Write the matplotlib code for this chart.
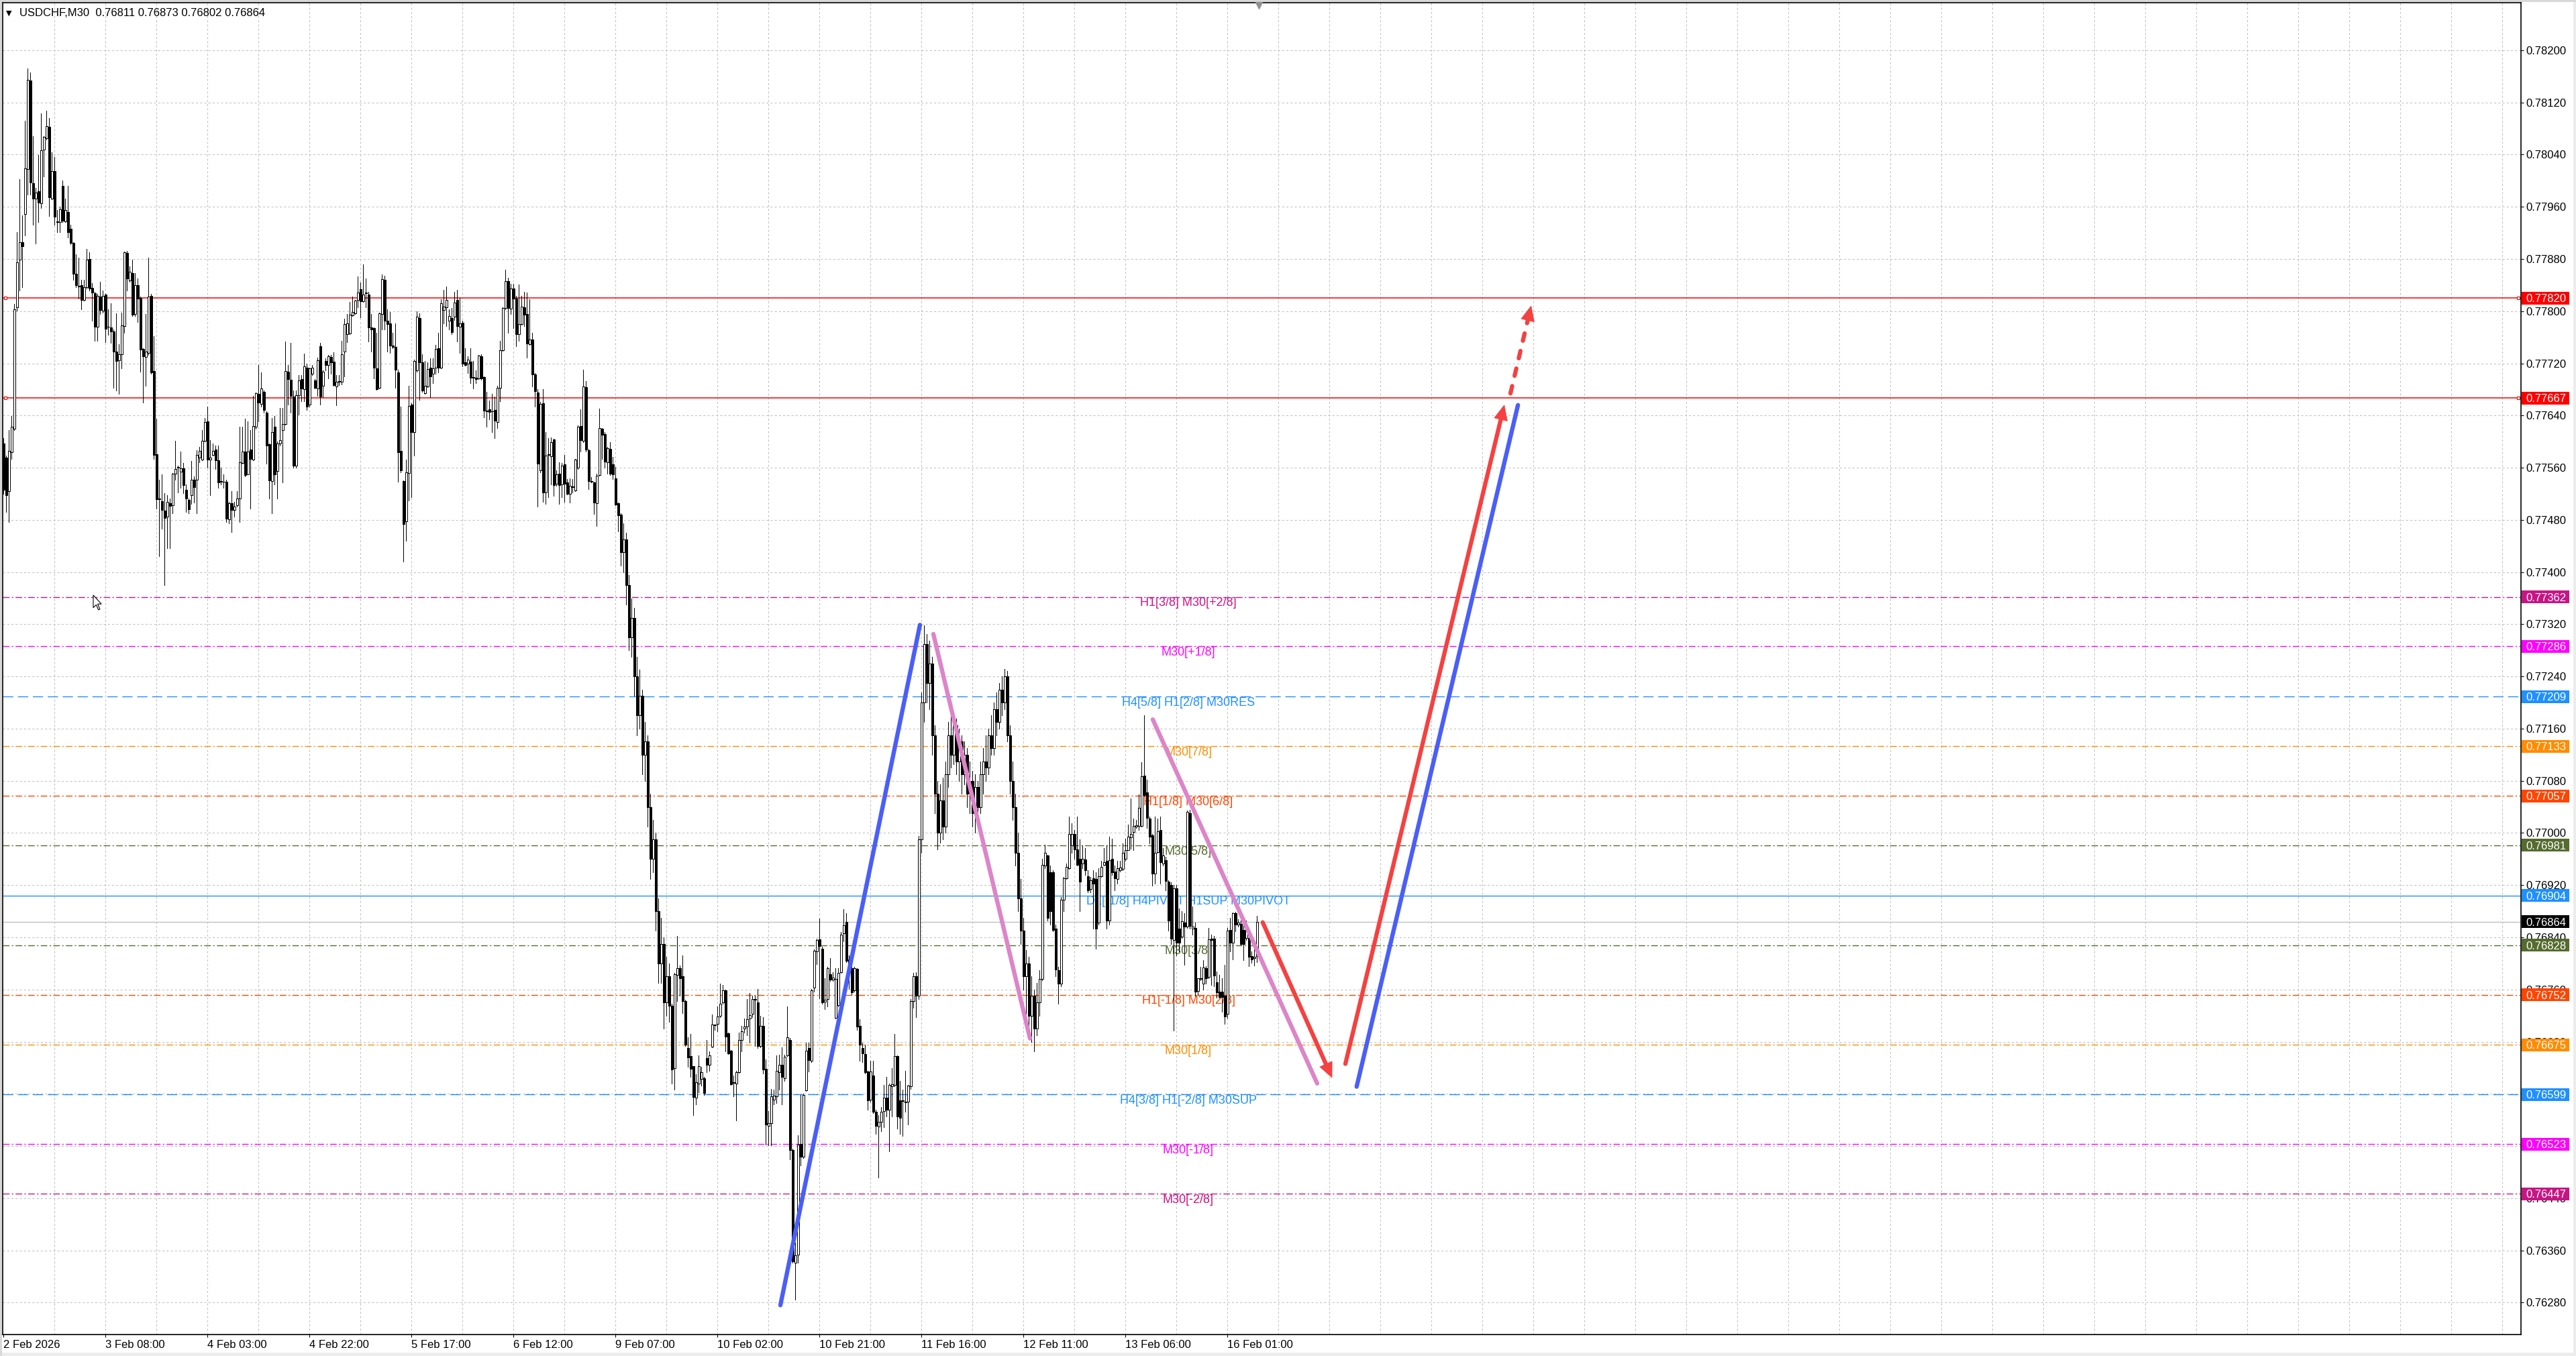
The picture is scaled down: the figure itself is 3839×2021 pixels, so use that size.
import numpy as np
import matplotlib
matplotlib.use("Agg")
import matplotlib.pyplot as plt
from matplotlib.patches import Rectangle, Polygon
from matplotlib.transforms import blended_transform_factory, IdentityTransform

plt.rcParams['font.family'] = ['Liberation Sans', 'DejaVu Sans']

W, H, DPI = 3839, 2021, 100

# USDCHF M30 candles, prices in 1e-5 units
opens = [
    77597, 77576, 77524, 77584, 77620, 77806, 77879, 77906, 77949, 78018,
    78154, 77996, 77973, 77984, 77965, 78048, 78065, 78083, 77973, 78015,
    77937, 77937, 77992, 77938, 77952, 77926, 77905, 77857, 77838, 77840,
    77817, 77837, 77880, 77836, 77828, 77776, 77822, 77801, 77825, 77776,
    77775, 77769, 77738, 77725, 77734, 77777, 77889, 77847, 77858, 77796,
    77840, 77820, 77742, 77730, 77736, 77823, 77708, 77581, 77512, 77509,
    77494, 77485, 77506, 77502, 77551, 77560, 77554, 77559, 77526, 77511,
    77518, 77542, 77542, 77576, 77572, 77601, 77631, 77572, 77580, 77588,
    77571, 77539, 77539, 77539, 77481, 77506, 77495, 77503, 77513, 77567,
    77585, 77550, 77588, 77572, 77623, 77673, 77658, 77676, 77644, 77596,
    77540, 77623, 77555, 77597, 77618, 77627, 77707, 77695, 77669, 77563,
    77671, 77696, 77680, 77713, 77657, 77704, 77694, 77682, 77746, 77686,
    77724, 77717, 77730, 77723,
    77685, 77692, 77692, 77738, 77765, 77766, 77794, 77797, 77817, 77834,
    77815, 77828, 77826, 77775, 77774, 77712, 77683, 77796, 77848, 77785,
    77781, 77747, 77745, 77706, 77586, 77540, 77478, 77552, 77657, 77615,
    77709, 77789, 77722, 77674, 77685, 77713, 77704, 77713, 77743, 77713,
    77802, 77806, 77785, 77789, 77792, 77817, 77776, 77782, 77722, 77720,
    77723, 77698, 77698, 77697, 77731, 77699, 77647, 77650, 77647, 77649,
    77630, 77683, 77740, 77805, 77846, 77804, 77835, 77819, 77765, 77780,
    77806, 77796, 77749, 77757, 77703, 77675, 77556, 77659, 77522, 77580,
    77578, 77603, 77535, 77551, 77534, 77565, 77537, 77520, 77530, 77525,
    77560, 77624, 77601, 77684, 77587, 77539, 77537, 77506, 77549, 77620,
    77612, 77568, 77589, 77565, 77544, 77506, 77488,
    77430, 77450, 77380, 77300, 77330, 77240, 77180, 77210, 77120, 77140,
    77040, 76960, 76990, 76880, 76800, 76830, 76740, 76780,
    76735, 76639, 76782, 76793, 76780, 76742, 76670, 76658, 76642, 76594,
    76616, 76623, 76624, 76655, 76645, 76672, 76705, 76707, 76720, 76740,
    76759, 76693, 76666, 76617, 76616, 76633, 76683, 76700, 76703, 76716,
    76723, 76744, 76740, 76673, 76704, 76638, 76551, 76555, 76591, 76596,
    76633, 76645, 76624, 76659, 76683, 76514, 76341, 76353, 76523, 76504,
    76605, 76670, 76651, 76763, 76818, 76837, 76823, 76741, 76745, 76783,
    76775, 76717, 76736, 76786, 76846, 76864, 76806, 76793, 76759, 76792,
    76704, 76670, 76661, 76634, 76591, 76628, 76573, 76550, 76557, 76574,
    76594, 76576, 76612, 76614, 76658, 76590, 76589, 76588, 76588, 76612,
    76742, 76780, 76751,
    76990, 77200, 77290, 77230, 77260, 77150, 77060, 77000, 77050, 77010,
    77090, 77150, 77120, 77165, 77110, 77140, 77090, 77120, 77060, 77080,
    77030, 77070, 77040, 77090, 77110, 77100, 77150, 77130, 77190, 77170,
    77220, 77200, 77240, 77150, 77080, 77040, 76970, 76900, 76850, 76780,
    76800, 76720, 76750, 76700, 76740,
    76776, 76950, 76965, 76940, 76940, 76853, 76790, 76769, 76898, 76931,
    76946, 76981, 76998, 76975, 76960, 76953, 76959, 76934, 76914, 76931,
    76930, 76863, 76934, 76951, 76957, 76866, 76960, 76941, 76929, 76943,
    76945, 76960, 76974, 76993, 77002, 77010, 77011, 77011, 77088, 77062,
    77022, 76996, 76938, 76971, 77005, 76953, 76958, 76925, 76920, 76836,
    76915, 76853, 76841, 76863, 76856, 77030, 76853, 76854, 76758, 76776,
    76769, 76793, 76779, 76838, 76838, 76771, 76757, 76757, 76750, 76723,
    76851, 76832, 76877, 76860, 76861, 76851, 76839, 76839, 76811, 76808,
    76811,
]
highs = [
    77605, 77579, 77618, 77639, 77811, 77921, 78002, 77947, 78092, 78172,
    78166, 78068, 77989, 78039, 78103, 78068, 78107, 78096, 78044, 78036,
    77955, 77960, 78000, 77973, 77992, 77932, 77906, 77887, 77882, 77848,
    77848, 77895, 77890, 77843, 77830, 77827, 77845, 77832, 77827, 77803,
    77812, 77772, 77797, 77749, 77798, 77891, 77892, 77869, 77879, 77858,
    77850, 77822, 77743, 77796, 77882, 77827, 77762, 77635, 77542, 77550,
    77521, 77518, 77513, 77552, 77601, 77563, 77585, 77567, 77534, 77513,
    77570, 77547, 77587, 77592, 77618, 77636, 77654, 77602, 77597, 77594,
    77594, 77560, 77550, 77542, 77508, 77524, 77508, 77524, 77623, 77623,
    77635, 77631, 77618, 77670, 77675, 77718, 77706, 77678, 77647, 77597,
    77636, 77639, 77600, 77652, 77652, 77754, 77717, 77751, 77678, 77678,
    77702, 77702, 77735, 77720, 77713, 77717, 77696, 77729, 77751, 77709,
    77728, 77733, 77733, 77737,
    77702, 77702, 77755, 77788, 77796, 77814, 77822, 77817, 77853, 77844,
    77872, 77850, 77830, 77796, 77775, 77767, 77798, 77856, 77854, 77803,
    77799, 77767, 77781, 77710, 77654, 77541, 77572, 77686, 77659, 77726,
    77800, 77797, 77734, 77724, 77722, 77728, 77728, 77748, 77767, 77818,
    77833, 77838, 77803, 77805, 77830, 77833, 77820, 77785, 77743, 77731,
    77743, 77724, 77709, 77733, 77734, 77700, 77676, 77663, 77673, 77669,
    77686, 77755, 77806, 77864, 77851, 77842, 77842, 77823, 77841, 77823,
    77830, 77829, 77818, 77767, 77705, 77680, 77661, 77680, 77615, 77605,
    77606, 77604, 77556, 77568, 77567, 77580, 77543, 77544, 77543, 77573,
    77625, 77650, 77710, 77693, 77589, 77546, 77538, 77551, 77651, 77621,
    77615, 77592, 77599, 77577, 77561, 77507, 77490,
    77475, 77460, 77395, 77360, 77345, 77270, 77250, 77220, 77170, 77150,
    77060, 77020, 77000, 76900, 76870, 76840, 76810, 76800,
    76738, 76785, 76842, 76797, 76812, 76744, 76687, 76692, 76643, 76630,
    76659, 76641, 76626, 76683, 76665, 76722, 76706, 76734, 76769, 76767,
    76760, 76694, 76667, 76628, 76635, 76694, 76704, 76716, 76745, 76755,
    76751, 76751, 76761, 76720, 76718, 76653, 76574, 76608, 76606, 76659,
    76660, 76671, 76660, 76734, 76686, 76516, 76372, 76537, 76598, 76600,
    76679, 76679, 76761, 76821, 76838, 76869, 76826, 76777, 76795, 76808,
    76786, 76793, 76793, 76848, 76883, 76877, 76812, 76808, 76795, 76793,
    76714, 76679, 76675, 76635, 76651, 76651, 76576, 76567, 76580, 76614,
    76626, 76616, 76639, 76692, 76659, 76620, 76606, 76635, 76614, 76745,
    76785, 76786, 76995,
    77215, 77318, 77305, 77295, 77270, 77165, 77080, 77075, 77085, 77110,
    77170, 77190, 77185, 77175, 77160, 77150, 77140, 77130, 77110, 77095,
    77090, 77080, 77110, 77130, 77150, 77160, 77180, 77200, 77215, 77230,
    77240, 77252, 77248, 77165, 77110, 77060, 77000, 76930, 76870, 76820,
    76810, 76780, 76760, 76770, 76790,
    76960, 76982, 76967, 76950, 76943, 76860, 76795, 76902, 76933, 76953,
    77025, 77015, 77005, 77025, 76990, 76981, 76977, 76943, 76933, 76943,
    76940, 76946, 76957, 76977, 76981, 76994, 76991, 76950, 76957, 76957,
    76984, 76991, 77013, 77053, 77022, 77020, 77059, 77109, 77180, 77082,
    77025, 76998, 77025, 77022, 77025, 76977, 76963, 76927, 76924, 76920,
    76920, 76884, 76880, 76877, 77034, 77035, 76887, 76863, 76777, 76795,
    76805, 76796, 76854, 76844, 76842, 76788, 76782, 76777, 76798, 76854,
    76870, 76878, 76879, 76868, 76866, 76863, 76866, 76849, 76818, 76825,
    76873,
]
lows = [
    77520, 77492, 77477, 77573, 77618, 77801, 77832, 77837, 77916, 77979,
    77979, 77932, 77904, 77937, 77958, 78007, 78063, 77946, 77972, 77932,
    77921, 77921, 77937, 77937, 77913, 77903, 77848, 77837, 77819, 77803,
    77816, 77835, 77832, 77785, 77755, 77755, 77796, 77798, 77752, 77764,
    77751, 77683, 77678, 77673, 77712, 77767, 77832, 77845, 77793, 77793,
    77783, 77707, 77660, 77686, 77733, 77704, 77573, 77497, 77424, 77466,
    77380, 77437, 77437, 77490, 77542, 77522, 77529, 77521, 77492, 77490,
    77505, 77507, 77490, 77568, 77571, 77600, 77560, 77518, 77579, 77558,
    77529, 77534, 77529, 77477, 77475, 77461, 77485, 77500, 77477, 77566,
    77547, 77550, 77497, 77571, 77620, 77631, 77654, 77644, 77566, 77513,
    77490, 77534, 77513, 77594, 77537, 77626, 77657, 77644, 77560, 77560,
    77641, 77662, 77662, 77649, 77654, 77702, 77682, 77670, 77657, 77668,
    77709, 77697, 77704, 77686,
    77656, 77687, 77688, 77700, 77752, 77765, 77793, 77796, 77806, 77791,
    77814, 77806, 77753, 77738, 77697, 77679, 77682, 77772, 77772, 77738,
    77736, 77743, 77683, 77539, 77553, 77416, 77448, 77510, 77515, 77579,
    77707, 77664, 77676, 77673, 77684, 77668, 77690, 77704, 77706, 77712,
    77781, 77777, 77772, 77765, 77786, 77753, 77736, 77715, 77716, 77705,
    77690, 77681, 77690, 77696, 77695, 77637, 77623, 77634, 77615, 77605,
    77621, 77662, 77739, 77803, 77767, 77796, 77774, 77746, 77755, 77779,
    77777, 77729, 77748, 77685, 77654, 77500, 77553, 77508, 77505, 77515,
    77534, 77517, 77532, 77505, 77515, 77508, 77519, 77507, 77522, 77524,
    77558, 77585, 77599, 77585, 77527, 77537, 77489, 77471, 77548, 77573,
    77560, 77551, 77549, 77543, 77503, 77462, 77410,
    77400, 77350, 77280, 77270, 77210, 77150, 77160, 77090, 77080, 77010,
    76930, 76940, 76850, 76770, 76770, 76700, 76720, 76710,
    76616, 76606, 76742, 76751, 76724, 76673, 76641, 76626, 76567, 76584,
    76602, 76613, 76598, 76633, 76635, 76671, 76698, 76696, 76718, 76738,
    76665, 76661, 76614, 76596, 76559, 76632, 76665, 76694, 76690, 76679,
    76718, 76673, 76670, 76671, 76631, 76522, 76521, 76521, 76584, 76586,
    76606, 76584, 76620, 76658, 76500, 76341, 76284, 76341, 76490, 76502,
    76604, 76634, 76649, 76757, 76799, 76746, 76738, 76730, 76734, 76773,
    76773, 76716, 76734, 76785, 76834, 76802, 76761, 76753, 76757, 76698,
    76651, 76649, 76631, 76576, 76588, 76570, 76539, 76472, 76543, 76549,
    76565, 76512, 76565, 76612, 76547, 76539, 76535, 76573, 76553, 76608,
    76732, 76718, 76745,
    76970, 77170, 77200, 77190, 77120, 77030, 76975, 76985, 76990, 77000,
    77070, 77100, 77105, 77090, 77080, 77060, 77075, 77040, 77030, 77010,
    77000, 77020, 77030, 77060, 77080, 77090, 77120, 77120, 77150, 77160,
    77180, 77190, 77140, 77060, 77020, 76950, 76880, 76830, 76760, 76720,
    76690, 76680, 76665, 76690, 76720,
    76774, 76946, 76866, 76860, 76849, 76780, 76738, 76765, 76880, 76929,
    76945, 76970, 76960, 76950, 76880, 76946, 76936, 76909, 76909, 76853,
    76822, 76860, 76933, 76950, 76853, 76860, 76936, 76912, 76922, 76941,
    76943, 76957, 76974, 76976, 76974, 77008, 77005, 77010, 77056, 77008,
    76984, 76919, 76922, 76970, 76922, 76950, 76912, 76850, 76830, 76697,
    76812, 76818, 76839, 76798, 76854, 76853, 76844, 76750, 76752, 76774,
    76760, 76769, 76777, 76767, 76765, 76747, 76747, 76726, 76707, 76717,
    76818, 76806, 76849, 76856, 76829, 76805, 76836, 76796, 76801, 76797,
    76802,
]
closes = [
    77526, 77518, 77586, 77623, 77803, 77875, 77906, 77900, 78019, 78155,
    77997, 77973, 77982, 77966, 78047, 78067, 78084, 77975, 78015, 77945,
    77938, 77956, 77939, 77955, 77921, 77905, 77857, 77840, 77838, 77817,
    77837, 77879, 77835, 77829, 77776, 77823, 77802, 77823, 77773, 77776,
    77769, 77738, 77724, 77734, 77778, 77890, 77850, 77860, 77795, 77840,
    77819, 77741, 77731, 77738, 77822, 77706, 77580, 77512, 77512, 77495,
    77483, 77508, 77501, 77551, 77558, 77561, 77559, 77533, 77513, 77496,
    77542, 77530, 77580, 77586, 77601, 77630, 77572, 77576, 77586, 77571,
    77537, 77540, 77538, 77482, 77506, 77495, 77500, 77513, 77568, 77585,
    77549, 77585, 77573, 77624, 77674, 77660, 77681, 77649, 77594, 77541,
    77615, 77550, 77597, 77602, 77627, 77708, 77696, 77670, 77563, 77671,
    77694, 77681, 77715, 77654, 77712, 77713, 77683, 77725, 77669, 77707,
    77717, 77731, 77722, 77687,
    77692, 77693, 77734, 77780, 77781, 77795, 77799, 77816, 77829, 77815,
    77825, 77828, 77775, 77772, 77713, 77680, 77797, 77849, 77785, 77780,
    77747, 77745, 77710, 77584, 77556, 77474, 77553, 77655, 77615, 77724,
    77792, 77722, 77678, 77686, 77711, 77700, 77712, 77742, 77713, 77812,
    77807, 77817, 77793, 77768, 77813, 77777, 77781, 77720, 77718, 77726,
    77698, 77699, 77696, 77732, 77697, 77648, 77648, 77645, 77646, 77632,
    77683, 77740, 77805, 77846, 77805, 77835, 77819, 77765, 77780, 77807,
    77795, 77750, 77757, 77703, 77677, 77566, 77658, 77522, 77579, 77581,
    77599, 77533, 77550, 77533, 77563, 77535, 77520, 77532, 77531, 77572,
    77623, 77602, 77685, 77588, 77540, 77540, 77507, 77548, 77621, 77610,
    77569, 77590, 77551, 77550, 77504, 77487, 77430,
    77450, 77380, 77300, 77330, 77240, 77180, 77210, 77120, 77140, 77040,
    76960, 76990, 76880, 76800, 76830, 76740, 76780, 76735,
    76637, 76783, 76793, 76777, 76742, 76675, 76656, 76638, 76595, 76618,
    76643, 76633, 76601, 76645, 76659, 76706, 76706, 76719, 76738, 76759,
    76688, 76662, 76615, 76618, 76633, 76683, 76696, 76703, 76715, 76721,
    76745, 76745, 76673, 76704, 76637, 76553, 76555, 76596, 76597, 76635,
    76645, 76626, 76657, 76687, 76514, 76343, 76352, 76522, 76504, 76598,
    76666, 76652, 76759, 76819, 76836, 76827, 76740, 76744, 76793, 76775,
    76778, 76776, 76785, 76844, 76859, 76804, 76795, 76756, 76793, 76703,
    76675, 76662, 76633, 76590, 76634, 76573, 76551, 76557, 76573, 76594,
    76576, 76614, 76615, 76658, 76565, 76563, 76590, 76587, 76613, 76742,
    76780, 76751, 76990,
    77200, 77290, 77230, 77260, 77150, 77060, 77000, 77050, 77010, 77090,
    77150, 77120, 77165, 77110, 77140, 77090, 77120, 77060, 77080, 77030,
    77070, 77040, 77090, 77110, 77100, 77150, 77130, 77190, 77170, 77220,
    77200, 77240, 77150, 77080, 77040, 76970, 76900, 76850, 76780, 76800,
    76720, 76750, 76700, 76740, 76776,
    76951, 76970, 76870, 76880, 76851, 76791, 76769, 76898, 76931, 76948,
    76998, 76998, 76975, 76951, 76925, 76960, 76943, 76912, 76927, 76922,
    76853, 76934, 76948, 76955, 76866, 76958, 76940, 76931, 76946, 76947,
    76970, 76974, 76994, 76998, 77011, 77012, 77039, 77087, 77058, 77023,
    76994, 76938, 76970, 77003, 76955, 76965, 76926, 76866, 76838, 76915,
    76832, 76832, 76865, 76856, 77032, 76858, 76856, 76757, 76777, 76777,
    76794, 76777, 76837, 76836, 76781, 76756, 76748, 76748, 76719, 76850,
    76832, 76877, 76860, 76863, 76830, 76830, 76851, 76810, 76806, 76810,
    76864,
]

time_labels = ['2 Feb 2026', '3 Feb 08:00', '4 Feb 03:00', '4 Feb 22:00', '5 Feb 17:00',
               '6 Feb 12:00', '9 Feb 07:00', '10 Feb 02:00', '10 Feb 21:00', '11 Feb 16:00',
               '12 Feb 11:00', '13 Feb 06:00', '16 Feb 01:00']
time_label_bars = [0, 38, 76, 114, 152, 190, 228, 266, 304, 342, 380, 418, 456]

price_ticks = [0.76280, 0.76360, 0.76440, 0.76520, 0.76600, 0.76680, 0.76760, 0.76840,
               0.76920, 0.77000, 0.77080, 0.77160, 0.77240, 0.77320, 0.77400, 0.77480,
               0.77560, 0.77640, 0.77720, 0.77800, 0.77880, 0.77960, 0.78040, 0.78120,
               0.78200]

red_levels = [0.77820, 0.77667]

level_prices = [0.77362, 0.77286, 0.77209, 0.77133, 0.77057, 0.76981, 0.76904,
                0.76828, 0.76752, 0.76675, 0.76599, 0.76523, 0.76447]
level_texts = ['H1[3/8] M30[+2/8]', 'M30[+1/8]', 'H4[5/8] H1[2/8] M30RES', 'M30[7/8]',
               'H1[1/8] M30[6/8]', 'M30[5/8]', 'D1[-1/8] H4PIVOT H1SUP M30PIVOT',
               'M30[3/8]', 'H1[-1/8] M30[2/8]', 'M30[1/8]', 'H4[3/8] H1[-2/8] M30SUP',
               'M30[-1/8]', 'M30[-2/8]']
level_colors = ['#C71585', '#FF00FF', '#1E90FF', '#FF8C00', '#FF4500', '#556B2F', '#1E90FF',
                '#556B2F', '#FF4500', '#FF8C00', '#1E90FF', '#FF00FF', '#C71585']
level_styles = ['dashdot', 'dashdot', 'dash', 'dashdot', 'dashdot', 'dashdot', 'solid',
                'dashdot', 'dashdot', 'dashdot', 'dash', 'dashdot', 'dashdot']

# hand drawn lines: bar index / price of both ends
trend_x0 = [289.5, 346.5, 428.25, 504.2]
trend_y0 = [0.76276, 0.77305, 0.77174, 0.76611]
trend_x1 = [341.5, 382.5, 489.5, 564.3]
trend_y1 = [0.77319, 0.76685, 0.76616, 0.77656]
trend_colors = ['#4a5ff7', '#dc85c8', '#dc85c8', '#4a5ff7']

arrow_x0 = [469.2, 500.0, 561.5]
arrow_y0 = [0.76863, 0.76646, 0.77674]
arrow_x1 = [495.0, 559.2, 569.2]
arrow_y1 = [0.76625, 0.77656, 0.77808]
arrow_dashed = [False, False, True]
ARROW_COLOR = '#f44141'

# ---------------------------------------------------------------
n = min(len(opens), len(highs), len(lows), len(closes))
o = np.array(opens[:n]) / 1e5
c = np.array(closes[:n]) / 1e5
hi = np.maximum(np.array(highs[:n]) / 1e5, np.maximum(o, c))
lo = np.minimum(np.array(lows[:n]) / 1e5, np.minimum(o, c))
x = np.arange(n)

fig = plt.figure(figsize=(W / DPI, H / DPI), dpi=DPI, facecolor='white')
L_PX, R_PX, T_PX, B_PX = 4, 3757, 4, 1989
ax = fig.add_axes([L_PX / W, 1 - B_PX / H, (R_PX - L_PX) / W, (B_PX - T_PX) / H])
ax.set_facecolor('white')
XMIN, XMAX = -0.25, 938.0
YMIN, YMAX = 0.76231, 0.78273
ax.set_xlim(XMIN, XMAX)
ax.set_ylim(YMIN, YMAX)

grid_kw = dict(color='#c0c0c0', lw=0.75, ls=(0, (3, 3)), zorder=0.5)
for k in range(19, 938, 19):
    ax.axvline(k, **grid_kw)
for p in price_ticks:
    ax.axhline(p, **grid_kw)

# level lines and their labels
styles = {'dashdot': (0, (7, 2.5, 1.5, 2.5)), 'dash': (0, (11, 5)), 'solid': '-'}
LABEL_BAR = 441.5
for p, txt, col, st in zip(level_prices, level_texts, level_colors, level_styles):
    ax.axhline(p, color=col, lw=1.0, ls=styles[st], zorder=1.5)
    ax.annotate(txt, xy=(LABEL_BAR, p), xytext=(0, -0.5), textcoords='offset points',
                ha='center', va='top', color=col, fontsize=13, zorder=2)

ax.axhline(closes[n - 1] / 1e5, color='#c0c0c0', lw=1.0, zorder=1.4)

blend = blended_transform_factory(ax.transAxes, ax.transData)
for p in red_levels:
    ax.axhline(p, color='#ff0000', lw=1.1, zorder=1.6)
    ax.plot([0.001, 0.9989], [p, p], transform=blend, ls='none', marker='s', ms=3.5,
            mfc='white', mec='#ff0000', mew=0.8, clip_on=False, zorder=7)

# candles (MT4 style): one pixel wicks and outlines
ax.vlines(x, lo, hi, color='black', lw=0.72, zorder=3, antialiased=False)
up = c >= o
body_lo = np.minimum(o, c)
body_h = np.maximum(np.abs(c - o), 0.000006)
ax.bar(x[up], body_h[up], bottom=body_lo[up], width=0.75, color='white',
       edgecolor='black', lw=0.72, zorder=4, antialiased=False)
ax.bar(x[~up], body_h[~up], bottom=body_lo[~up], width=0.75, color='black',
       edgecolor='black', lw=0.72, zorder=4, antialiased=False)

# trend lines
for x0, y0, x1, y1, col in zip(trend_x0, trend_y0, trend_x1, trend_y1, trend_colors):
    ax.plot([x0, x1], [y0, y1], color=col, lw=4.6, solid_capstyle='round', zorder=6)

# arrows
HEAD_LEN, HEAD_HALF = 22.0, 10.0
inv = ax.transData.inverted()
for x0, y0, x1, y1, dashed in zip(arrow_x0, arrow_y0, arrow_x1, arrow_y1, arrow_dashed):
    p0 = ax.transData.transform((x0, y0))
    p1 = ax.transData.transform((x1, y1))
    d = p1 - p0
    u = d / np.hypot(*d)
    nrm = np.array([-u[1], u[0]])
    base = p1 - u * HEAD_LEN
    shaft_end = inv.transform(base + u * 4)
    if dashed:
        ax.plot([x0, shaft_end[0]], [y0, shaft_end[1]], color=ARROW_COLOR, lw=4.5,
                ls=(0, (1.8, 2.5)), dash_capstyle='round', zorder=6)
    else:
        ax.plot([x0, shaft_end[0]], [y0, shaft_end[1]], color=ARROW_COLOR, lw=4.5,
                solid_capstyle='round', zorder=6)
    head = inv.transform(np.array([p1, base + nrm * HEAD_HALF, base - nrm * HEAD_HALF]))
    ax.add_patch(Polygon(head, closed=True, facecolor=ARROW_COLOR, edgecolor=ARROW_COLOR,
                         lw=0.5, zorder=6.5))

# axes styling
for s in ax.spines.values():
    s.set_color('black')
    s.set_linewidth(1.2)
ax.yaxis.tick_right()
ax.set_yticks(price_ticks)
ax.set_yticklabels(['%.5f' % p for p in price_ticks])
ax.tick_params(axis='y', which='major', direction='out', length=3, width=0.8, pad=2.5,
               labelsize=12, colors='black', right=True, left=False)
ax.set_xticks(time_label_bars)
ax.set_xticklabels(time_labels, ha='left')
ax.tick_params(axis='x', which='major', direction='out', length=3, width=0.8, pad=2.5,
               labelsize=12, colors='black')

# price tags on the right scale
box_h = 19 * (YMAX - YMIN) / (B_PX - T_PX)
bx0 = (3758 - L_PX) / (R_PX - L_PX)
bw = 71 / (R_PX - L_PX)
tx = (3764 - L_PX) / (R_PX - L_PX)


def price_tag(p, col):
    ax.add_patch(Rectangle((bx0, p - box_h / 2), bw, box_h, transform=blend, facecolor=col,
                           edgecolor='none', clip_on=False, zorder=10))
    ax.text(tx, p, '%.5f' % p, transform=blend, ha='left', va='center_baseline',
            color='white', fontsize=12, zorder=11, clip_on=False)


for p in red_levels:
    price_tag(p, '#ff0000')
for p, col in zip(level_prices, level_colors):
    price_tag(p, col)
price_tag(closes[n - 1] / 1e5, '#000000')

# title line
title = 'USDCHF,M30  %.5f %.5f %.5f %.5f' % (o[-1], hi[-1], lo[-1], c[-1])
fig.text(29 / W, 1 - 20 / H, title, fontsize=12, va='center', ha='left', color='black')
fig.text(13 / W, 1 - 20 / H, '\u25BC', fontsize=8, va='center', ha='center',
         color='black', family='DejaVu Sans')

# chart shift marker at the top
ax.plot([0.4988], [1 - 4 / (B_PX - T_PX)], transform=ax.transAxes, marker='v', ms=7,
        color='#909090', ls='none', clip_on=False, zorder=8)

# mouse pointer
cur = np.array([(0, 0), (0, 17), (4, 13), (7, 20), (9, 19), (6, 12), (11, 12)], float)
cur_px = np.column_stack([139 + cur[:, 0] * 1.1, H - (887 + cur[:, 1] * 1.1)])
fig.add_artist(Polygon(cur_px, closed=True, facecolor='white', edgecolor='black', lw=0.8,
                       transform=IdentityTransform(), zorder=20))

# window border strips
fig.add_artist(Rectangle((0, 0), 1, 5 / H, transform=fig.transFigure, facecolor='#ececec',
                         edgecolor='none', zorder=-1))
fig.add_artist(Rectangle((1 - 4 / W, 0), 4 / W, 1, transform=fig.transFigure,
                         facecolor='#ececec', edgecolor='none', zorder=-1))
fig.add_artist(Rectangle((0, 1 - 3 / H), 1, 3 / H, transform=fig.transFigure,
                         facecolor='#d8d8d8', edgecolor='none', zorder=-1))
fig.add_artist(Rectangle((0, 0), 3 / W, 1, transform=fig.transFigure, facecolor='#d8d8d8',
                         edgecolor='none', zorder=-1))

fig.savefig('out.png', dpi=DPI, facecolor='white')
